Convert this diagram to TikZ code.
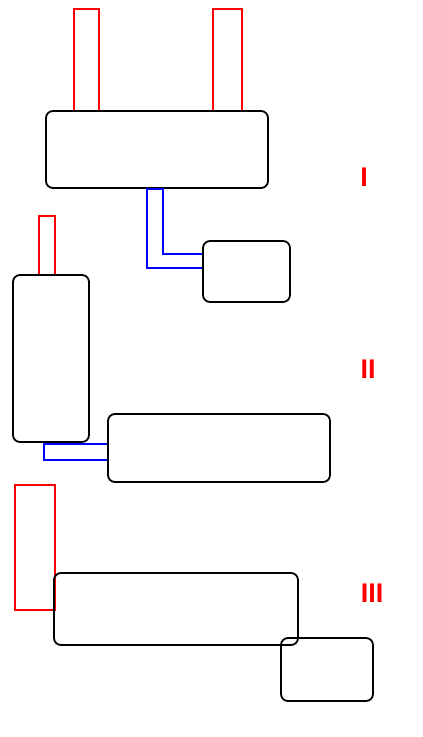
\documentclass[tikz,border=0pt]{standalone}
\usepackage{fontspec}
\setsansfont{Liberation Sans}
\usetikzlibrary{positioning}
\definecolor{rojo}{HTML}{FF0000}
\definecolor{azul}{HTML}{0000FF}
\definecolor{tinta}{HTML}{000000}
\begin{document}
\begin{tikzpicture}[x=1pt,y=-1pt,
  unit/.style={tinta,line width=1.8pt,rounded corners=7pt},
  mount/.style={rojo,line width=1.7pt},
  pipe/.style={azul,line width=1.7pt},
  seclbl/.style={text=rojo,font=\sffamily\bfseries\fontsize{27}{27}\selectfont,inner sep=0pt}]
\useasboundingbox (0,0) rectangle (423,737);

% I
\draw[mount] (74,9) rectangle (99,111);
\draw[mount] (213,9) rectangle (242,111);
\draw[unit] (46,111) rectangle (268,188);
\draw[pipe] (147,189) -- (163,189) -- (163,254) -- (203,254) -- (203,268) -- (147,268) -- cycle;
\draw[unit] (203,241) rectangle (290,302);
\node[seclbl] (secI) at (364,177) {I};

% II
\draw[mount] (39,216) rectangle (55,275);
\draw[unit] (13,275) rectangle (89,442);
\draw[pipe] (44,444) rectangle (108,460);
\draw[unit] (108,414) rectangle (330,482);
\node[seclbl] (secII) at (368,369) {II};

% III
\draw[mount] (15,485) rectangle (55,610);
\draw[unit] (54,573) rectangle (298,645);
\draw[unit] (281,638) rectangle (373,701);
\node[seclbl] (secIII) at (372,593) {III};

\end{tikzpicture}
\end{document}
